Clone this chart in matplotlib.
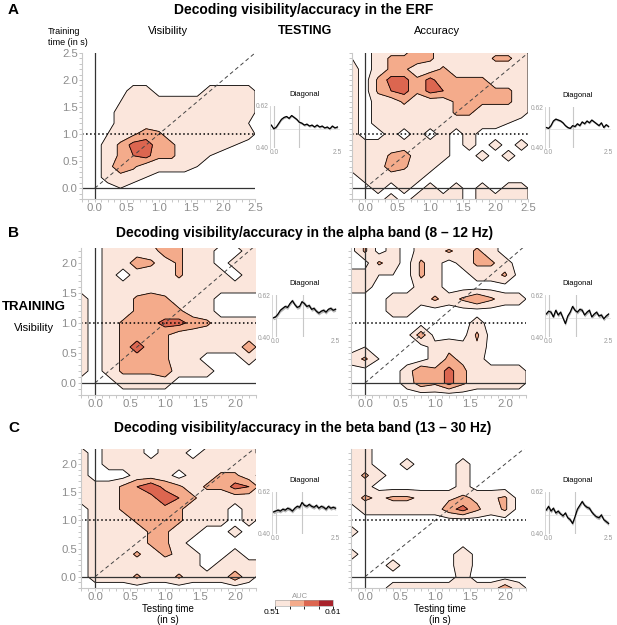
import matplotlib
matplotlib.use('Agg')
import matplotlib.pyplot as plt
import matplotlib as mpl
import numpy as np
from matplotlib.colors import ListedColormap, BoundaryNorm
from matplotlib.ticker import MultipleLocator, FormatStrFormatter

plt.rcParams['font.family'] = ['Liberation Sans', 'DejaVu Sans']

# grid of training/testing times (s) used for the generalization maps
grid_t = [-0.2, 0.0, 0.2, 0.4, 0.6, 0.8, 1.0, 1.2, 1.4, 1.6, 1.8, 2.0, 2.2, 2.4, 2.6]

# AUC maps, rows = training time from 2.6 (top) down to -0.2, digit d -> AUC 0.50 + d/100
vis_erf = ["000000000000000",
           "000000000000000",
           "000000000000000",
           "000000000000000",
           "000022000022220",
           "000122222212120",
           "000222222221220",
           "000222222212210",
           "001235422221220",
           "002477542222100",
           "002467442210000",
           "002642222100000",
           "002221000000000",
           "000100000000000",
           "000000000000000"]

acc_erf = ["102224422222220",
           "102445422224420",
           "202442242222220",
           "204774744442220",
           "204674766444420",
           "202242224544420",
           "202222224422220",
           "202222222222100",
           "200202020200000",
           "222222220202020",
           "222452220020200",
           "222542200000000",
           "022222000000000",
           "002020202020220",
           "000202222022220"]

vis_alpha = ["002224442222220",
             "002224442222220",
             "002222542200220",
             "002254242202220",
             "002022242220220",
             "002222222222220",
             "202245422200000",
             "202244442200000",
             "202445775422220",
             "202444422222220",
             "202484422222520",
             "202444422000200",
             "202444522200000",
             "000222200000000",
             "000000000000000"]

acc_alpha = ["000000000000000",
             "040202202220000",
             "040202242420000",
             "004204202442000",
             "221104200224000",
             "220002200000000",
             "000222424642200",
             "000220000000000",
             "000000000200000",
             "000005000400000",
             "010000232300000",
             "241000243200000",
             "000026474222200",
             "000025474222200",
             "000000000000000"]

vis_beta = ["000000000000000",
            "002220222002200",
            "202220220222200",
            "202222222222220",
            "200022202244200",
            "222468542447620",
            "222445864222220",
            "022444542220220",
            "022244442220200",
            "022224422002000",
            "022224420000000",
            "022242432002000",
            "022222222022220",
            "022242242225200",
            "000000000000000"]

acc_beta = ["000000000000000",
            "220000000000000",
            "220000000000000",
            "220020002000000",
            "242000002000000",
            "220000002000000",
            "243443334334000",
            "022222257424000",
            "000000000000000",
            "200000000000000",
            "000000000000000",
            "200000003000000",
            "000200003000000",
            "000000002000000",
            "000222222225200"]

# diagonal decoding (AUC) from -0.1 to 2.5 s
diag_t = [-0.1, 0.0, 0.1, 0.2, 0.3, 0.4, 0.5, 0.6, 0.7, 0.8, 0.9, 1.0, 1.1, 1.2,
          1.3, 1.4, 1.5, 1.6, 1.7, 1.8, 1.9, 2.0, 2.1, 2.2, 2.3, 2.4, 2.5]
diag_vis_erf = [0.52, 0.50, 0.51, 0.53, 0.55, 0.56, 0.565, 0.555, 0.57, 0.56, 0.55, 0.535, 0.53, 0.52,
                0.525, 0.515, 0.52, 0.51, 0.52, 0.51, 0.515, 0.505, 0.51, 0.50, 0.515, 0.505, 0.51]
diag_acc_erf = [0.51, 0.505, 0.52, 0.545, 0.555, 0.55, 0.545, 0.535, 0.52, 0.51, 0.505, 0.52, 0.515, 0.53,
                0.52, 0.54, 0.53, 0.545, 0.535, 0.55, 0.54, 0.53, 0.52, 0.535, 0.51, 0.525, 0.515]
diag_vis_alpha = [0.50, 0.505, 0.52, 0.54, 0.55, 0.56, 0.555, 0.575, 0.59, 0.57, 0.555, 0.56, 0.585, 0.575,
                  0.56, 0.565, 0.545, 0.55, 0.535, 0.525, 0.535, 0.54, 0.53, 0.545, 0.55, 0.54, 0.545]
diag_acc_alpha = [0.52, 0.535, 0.53, 0.505, 0.54, 0.515, 0.53, 0.50, 0.47, 0.51, 0.53, 0.56, 0.54, 0.53,
                  0.545, 0.54, 0.515, 0.53, 0.54, 0.505, 0.52, 0.53, 0.51, 0.515, 0.495, 0.51, 0.52]
diag_vis_beta = [0.515, 0.52, 0.525, 0.52, 0.53, 0.525, 0.535, 0.53, 0.52, 0.535, 0.545, 0.54, 0.565, 0.55,
                 0.545, 0.555, 0.545, 0.54, 0.55, 0.535, 0.545, 0.54, 0.53, 0.545, 0.535, 0.54, 0.535]
diag_acc_beta = [0.525, 0.545, 0.52, 0.535, 0.51, 0.52, 0.505, 0.495, 0.51, 0.485, 0.475, 0.455, 0.49, 0.53,
                 0.55, 0.57, 0.55, 0.54, 0.535, 0.515, 0.50, 0.49, 0.485, 0.50, 0.475, 0.465, 0.455]
sem_erf = 0.006
sem_band = 0.01

auc_levels = [0.51, 0.535, 0.56, 0.585, 0.61]
auc_colors = ['#fbe6dc', '#f4ab8b', '#dc6650', '#a8222b']

W, H = 617, 625
fig = plt.figure(figsize=(W / 100, H / 100), dpi=100)


def box(l, t, r, b):
    return [l / W, 1 - b / H, (r - l) / W, (b - t) / H]


def to_auc(rows):
    z = np.array([[int(c) for c in r] for r in rows], dtype=float)
    return 0.50 + z[::-1] / 100.0


def gat_panel(rect, rows, ymax, xmax, ticks, ylabels=True):
    ax = fig.add_axes(box(*rect))
    Z = to_auc(rows)
    ax.contourf(grid_t, grid_t, Z, levels=auc_levels, colors=auc_colors)
    ax.contour(grid_t, grid_t, Z, levels=auc_levels[:-1], colors='k', linewidths=0.6)
    ax.plot([0, 2.6], [0, 2.6], color='#444444', ls=(0, (4, 3)), lw=0.7)
    ax.axhline(1.0, color='k', ls=':', lw=1.1)
    ax.axvline(0.0, color='#333333', lw=0.9)
    ax.axhline(0.0, color='#333333', lw=0.9)
    ax.set_xlim(-0.2, xmax)
    ax.set_ylim(-0.2, ymax)
    for s in ['top', 'right']:
        ax.spines[s].set_visible(False)
    for s in ['left', 'bottom']:
        ax.spines[s].set_color('#c8c8c8')
        ax.spines[s].set_linewidth(0.8)
    ax.set_xticks(ticks)
    ax.set_yticks(ticks)
    ax.xaxis.set_minor_locator(MultipleLocator(0.1))
    ax.yaxis.set_minor_locator(MultipleLocator(0.1))
    ax.xaxis.set_major_formatter(FormatStrFormatter('%.1f'))
    ax.yaxis.set_major_formatter(FormatStrFormatter('%.1f'))
    ax.tick_params(which='both', colors='#bdbdbd', labelcolor='#8c8c8c', labelsize=8.2,
                   length=2, width=0.6, pad=1, labelleft=ylabels)
    return ax


def diag_panel(rect, vals, sem, vline):
    ax = fig.add_axes(box(*rect))
    v = np.array(vals)
    ax.axhline(0.5, color='#e2e2e2', lw=0.6)
    ax.axvline(0.0, color='#c8c8c8', lw=0.8)
    ax.axvline(vline, color='#c8c8c8', lw=0.8)
    ax.fill_between(diag_t, v - sem, v + sem, color='#b5b5b5', lw=0)
    ax.plot(diag_t, v, color='k', lw=0.9)
    ax.set_xlim(-0.15, 2.6)
    ax.set_ylim(0.40, 0.62)
    for s in ['top', 'right', 'bottom']:
        ax.spines[s].set_visible(False)
    ax.spines['left'].set_color('#d0d0d0')
    ax.spines['left'].set_linewidth(0.6)
    ax.set_yticks([0.40, 0.62])
    ax.set_yticklabels(['0.40', '0.62'])
    ax.set_xticks([0.0, 2.5])
    ax.set_xticklabels(['0.0', '2.5'])
    ax.tick_params(length=0, labelsize=4.8, labelcolor='#9a9a9a', pad=1)
    ax.set_title('Diagonal', fontsize=5.5, pad=7)
    return ax


# row A (ERF)
ticks_a = [0.0, 0.5, 1.0, 1.5, 2.0, 2.5]
ticks_bc = [0.0, 0.5, 1.0, 1.5, 2.0]
gat_panel((82, 53, 255, 199), vis_erf, 2.5, 2.5, ticks_a)
gat_panel((352, 53, 528, 199), acc_erf, 2.5, 2.5, ticks_a, ylabels=False)
diag_panel((270, 106, 340, 148), diag_vis_erf, sem_erf, 1.0)
diag_panel((545, 107, 611, 148), diag_acc_erf, sem_erf, 1.0)

# row B (alpha)
gat_panel((81, 248, 256, 395), vis_alpha, 2.25, 2.3, ticks_bc)
gat_panel((351, 248, 526, 395), acc_alpha, 2.25, 2.3, ticks_bc, ylabels=False)
diag_panel((272, 295, 338, 337), diag_vis_alpha, sem_band, 1.15)
diag_panel((545, 295, 611, 337), diag_acc_alpha, sem_band, 1.15)

# row C (beta)
gat_panel((81, 449, 256, 588), vis_beta, 2.27, 2.3, ticks_bc)
gat_panel((351, 449, 526, 588), acc_beta, 2.27, 2.3, ticks_bc, ylabels=False)
diag_panel((272, 492, 338, 534), diag_vis_beta, sem_band, 1.1)
diag_panel((545, 492, 611, 534), diag_acc_beta, sem_band, 1.1)

for xc in (168, 440):
    fig.text(xc / W, 1 - 609 / H, 'Testing time', fontsize=7, ha='center', va='center')
    fig.text(xc / W, 1 - 620 / H, '(in s)', fontsize=7, ha='center', va='center')

# colour bar
cax = fig.add_axes(box(275, 600, 333, 606))
cb = mpl.colorbar.ColorbarBase(cax, cmap=ListedColormap(auc_colors),
                               norm=BoundaryNorm(auc_levels, len(auc_colors)),
                               orientation='horizontal')
cb.outline.set_linewidth(0.4)
cb.outline.set_edgecolor('#999999')
cax.set_xticks([])
fig.text(300 / W, 1 - 596 / H, 'AUC', fontsize=5.5, color='#999999', ha='center', va='center')
fig.text(272 / W, 1 - 613 / H, '0.51', fontsize=6, ha='center', va='center')
fig.text(333 / W, 1 - 613 / H, '0.61', fontsize=6, ha='center', va='center')

# text
fig.text(8 / W, 1 - 10 / H, 'A', fontsize=11, fontweight='bold', va='center')
fig.text(8 / W, 1 - 233 / H, 'B', fontsize=11, fontweight='bold', va='center')
fig.text(8 / W, 1 - 428 / H, 'C', fontsize=11, fontweight='bold', va='center')
fig.text(304 / W, 1 - 10 / H, 'Decoding visibility/accuracy in the ERF',
         fontsize=10, fontweight='bold', ha='center', va='center')
fig.text(305 / W, 1 - 233 / H, 'Decoding visibility/accuracy in the alpha band (8 \u2013 12 Hz)',
         fontsize=10, fontweight='bold', ha='center', va='center')
fig.text(303 / W, 1 - 428 / H, 'Decoding visibility/accuracy in the beta band (13 \u2013 30 Hz)',
         fontsize=10, fontweight='bold', ha='center', va='center')
fig.text(48 / W, 1 - 37 / H, 'Training\ntime (in s)', fontsize=6.5, ha='left', va='center',
         linespacing=1.2)
fig.text(168 / W, 1 - 31 / H, 'Visibility', fontsize=8, ha='center', va='center')
fig.text(305 / W, 1 - 31 / H, 'TESTING', fontsize=9, fontweight='bold', ha='center', va='center')
fig.text(437 / W, 1 - 31 / H, 'Accuracy', fontsize=8, ha='center', va='center')
fig.text(34 / W, 1 - 307 / H, 'TRAINING', fontsize=9.5, fontweight='bold', ha='center', va='center')
fig.text(34 / W, 1 - 328 / H, 'Visibility', fontsize=8, ha='center', va='center')

fig.savefig('out.png', dpi=100)
